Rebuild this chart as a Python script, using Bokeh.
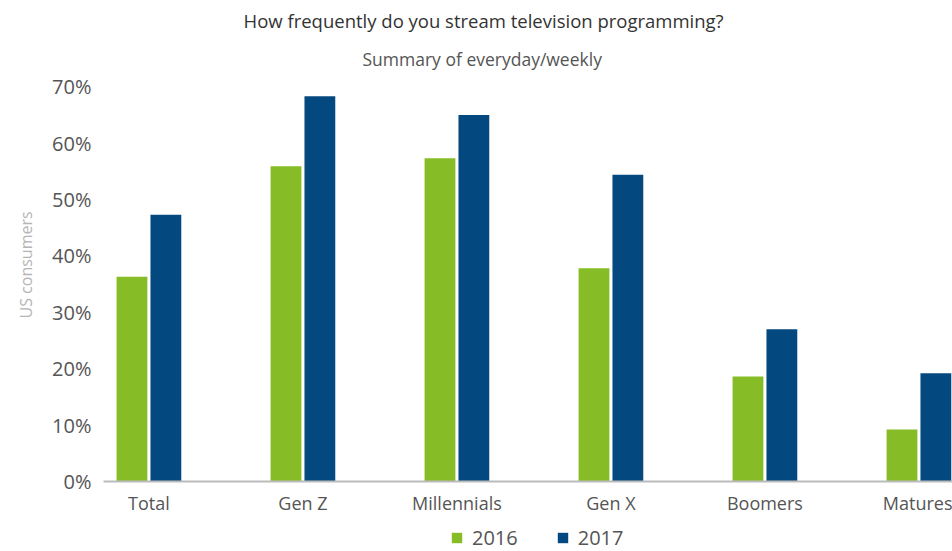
from bokeh.plotting import figure
from bokeh.layouts import column
from bokeh.models import (Range1d, FixedTicker, PrintfTickFormatter, Title, Legend, LegendItem)
from bokeh.embed import file_html
from bokeh.resources import INLINE

categories = ["Total", "Gen Z", "Millennials", "Gen X", "Boomers", "Matures"]
y2016 = [36.3, 55.9, 57.3, 37.8, 18.6, 9.2]
y2017 = [47.3, 68.3, 65.0, 54.4, 27.0, 19.2]
series_names = ["2016", "2017"]
y_ticks = [0, 10, 20, 30, 40, 50, 60, 70]

GREEN = "#86BC25"
BLUE = "#03487F"
FONT = "Open Sans"

W, H = 952, 520
p = figure(width=W, height=H, output_backend="svg", toolbar_location=None,
           x_range=Range1d(-0.295, 5.218), y_range=Range1d(0, 71.1),
           min_border_left=103, min_border_right=0, min_border_top=80, min_border_bottom=39)
p.outline_line_color = None
p.grid.visible = False

idx = list(range(len(categories)))
off = 0.11
bw = 0.2
r1 = p.vbar(x=[i - off for i in idx], top=y2016, width=bw, color=GREEN, line_color=None)
r2 = p.vbar(x=[i + off for i in idx], top=y2017, width=bw, color=BLUE, line_color=None)

# x axis
xa = p.xaxis[0]
xa.ticker = FixedTicker(ticks=idx)
xa.major_label_overrides = {i: c for i, c in zip(idx, categories)}
xa.major_tick_line_color = None
xa.minor_tick_line_color = None
xa.axis_line_color = "#BBBBBB"
xa.axis_line_width = 2
xa.major_label_text_font = FONT
xa.major_label_text_font_size = "18px"
xa.major_label_text_color = "#555555"
xa.major_label_standoff = 3

# y axis
ya = p.yaxis[0]
ya.ticker = FixedTicker(ticks=y_ticks)
ya.formatter = PrintfTickFormatter(format="%d%%")
ya.axis_line_color = None
ya.major_tick_line_color = None
ya.minor_tick_line_color = None
ya.major_label_text_font = FONT
ya.major_label_text_font_size = "20px"
ya.major_label_text_color = "#555555"
ya.major_label_standoff = 6

ylab = Title(text="US consumers", align="left", offset=163,
             text_font=FONT, text_font_size="16px", text_font_style="normal",
             text_color="#B5B5B5", standoff=25)
p.add_layout(ylab, "left")

sub = Title(text="Summary of everyday/weekly", align="left", offset=259,
            text_font=FONT, text_font_size="17.5px", text_font_style="normal",
            text_color="#555555", standoff=20)
ttl = Title(text="How frequently do you stream television programming?", align="left",
            offset=140, text_font=FONT, text_font_size="18.5px", text_font_style="normal",
            text_color="#333333", standoff=4)
p.add_layout(sub, "above")
p.add_layout(ttl, "above")

# legend strip below the chart (its frame is aligned with the chart's frame)
q = figure(width=W, height=31, output_backend="svg", toolbar_location=None,
           x_range=Range1d(-20, -19), y_range=Range1d(-20, -19),
           min_border_left=0, min_border_right=0, min_border_top=0, min_border_bottom=0)
q.axis.visible = False
q.grid.visible = False
q.outline_line_color = None
g1 = q.vbar(x=idx, top=y2016, width=bw, color=GREEN, line_color=None)
g2 = q.vbar(x=idx, top=y2017, width=bw, color=BLUE, line_color=None)
legend = Legend(items=[LegendItem(label=series_names[0], renderers=[g1]),
                       LegendItem(label=series_names[1], renderers=[g2])],
                orientation="horizontal", location=(347, 0),
                border_line_color=None, background_fill_alpha=0,
                padding=0, margin=0, spacing=38, label_standoff=9,
                glyph_width=13, glyph_height=13,
                label_text_font=FONT, label_text_font_size="20px",
                label_text_color="#555555")
q.add_layout(legend, "center")

open("out.html", "w").write(file_html(column(p, q, spacing=0), INLINE))
